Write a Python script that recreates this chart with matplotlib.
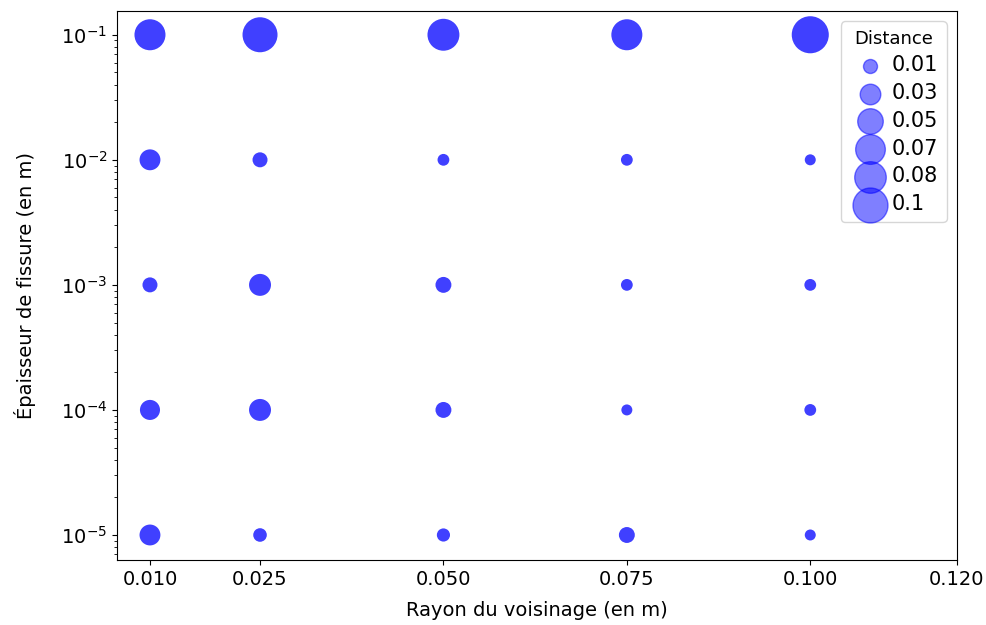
#!/usr/bin/env python3
import matplotlib
matplotlib.use("Agg")
import matplotlib.pyplot as plt

# Grid of the study
RAYONS = [0.01, 0.025, 0.05, 0.075, 0.1]
EPAISSEURS = [1e-1, 1e-2, 1e-3, 1e-4, 1e-5]

# Distance, one row per epaisseur (same order as EPAISSEURS)
DIST_E1 = [0.077, 0.100, 0.082, 0.077, 0.113]
DIST_E2 = [0.031, 0.0125, 0.005, 0.005, 0.0034]
DIST_E3 = [0.0125, 0.035, 0.015, 0.005, 0.005]
DIST_E4 = [0.028, 0.035, 0.015, 0.0034, 0.005]
DIST_E5 = [0.031, 0.009, 0.008, 0.015, 0.0034]

LEGEND_VALUES = [0.01, 0.03, 0.05, 0.07, 0.08, 0.1]
LEGEND_LABELS = ["0.01", "0.03", "0.05", "0.07", "0.08", "0.1"]

X_TICKS = [0.010, 0.025, 0.050, 0.075, 0.100, 0.120]


def size_of(d):
    return 42.5 + 5927.0 * d


def main():
    rows = [DIST_E1, DIST_E2, DIST_E3, DIST_E4, DIST_E5]

    xs, ys, ss = [], [], []
    for e, row in zip(EPAISSEURS, rows):
        for r, d in zip(RAYONS, row):
            xs.append(r)
            ys.append(e)
            ss.append(size_of(d))

    fig = plt.figure(figsize=(9.87, 6.25), dpi=100)
    ax = fig.add_axes([0.1185, 0.104, 0.8511, 0.8784])

    ax.scatter(xs, ys, s=ss, color="blue", alpha=0.75, edgecolors="none")

    # legend handles
    for v, lab in zip(LEGEND_VALUES, LEGEND_LABELS):
        ax.scatter([], [], s=size_of(v), color="blue", alpha=0.5, label=lab)

    ax.set_yscale("log")
    ax.set_ylim(10 ** -5.2, 10 ** -0.81)
    ax.set_xlim(0.0055, 0.12)
    ax.set_xticks(X_TICKS)
    ax.set_xticklabels([f"{t:.3f}" for t in X_TICKS])
    ax.tick_params(axis="both", labelsize=14)

    ax.set_xlabel("Rayon du voisinage (en m)", fontsize=14, labelpad=9)
    ax.set_ylabel("Épaisseur de fissure (en m)", fontsize=14, labelpad=18)

    ax.legend(title="Distance", loc="upper right", fontsize=15, title_fontsize=13,
              labelspacing=0.37, handlelength=2.0, handletextpad=0.05,
              borderpad=0.4, scatterpoints=1)

    fig.savefig("out.png", dpi=100)


if __name__ == "__main__":
    main()
